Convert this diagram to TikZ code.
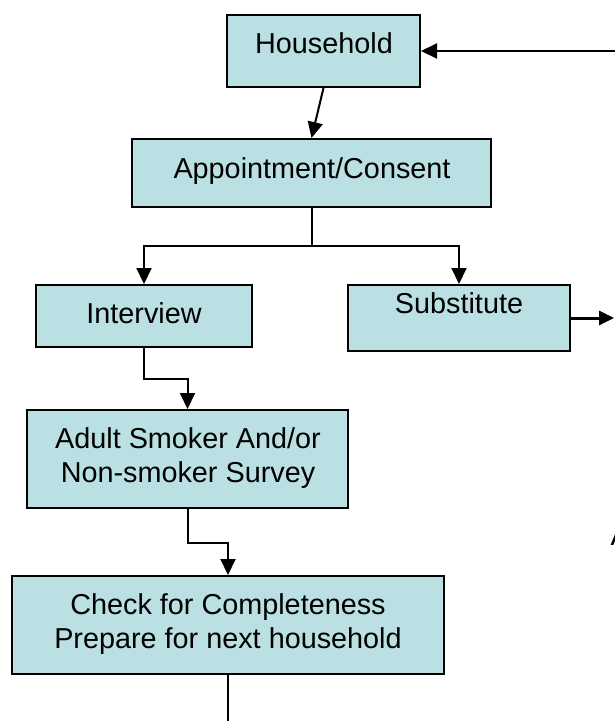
\documentclass[tikz,border=0pt]{standalone}
\usepackage{fontspec}
\setmainfont{Liberation Sans}
\usetikzlibrary{arrows.meta}
\definecolor{boxfill}{RGB}{187,224,227}
\tikzset{
  box/.style={draw=black, line width=2pt, fill=boxfill, rectangle, inner sep=0pt},
  txt/.style={inner sep=0pt, align=center, font=\fontsize{28.8}{34}\selectfont},
  conn/.style={line width=2pt, draw=black},
  arr/.style={conn, -{Triangle[length=16pt,width=15pt]}},
  thickarr/.style={line width=3pt, draw=black, -{Triangle[length=15pt,width=14pt]}}
}
\begin{document}
\begin{tikzpicture}[x=1pt,y=-1pt]
\useasboundingbox (0,0) rectangle (614,721);
% boxes
\node[box, minimum width=193pt, minimum height=72pt] (hh) at (323.5,51) {};
\node[box, minimum width=359pt, minimum height=68pt] (ap) at (311.5,173) {};
\node[box, minimum width=216pt, minimum height=62pt] (iv) at (144,316) {};
\node[box, minimum width=222pt, minimum height=66pt] (sb) at (459,318) {};
\node[box, minimum width=321pt, minimum height=98pt] (ad) at (187.5,459) {};
\node[box, minimum width=432pt, minimum height=98pt] (ck) at (228,625) {};
% texts
\node[txt, anchor=base] (thh) at (324,53) {Household};
\node[txt, anchor=base] (tap) at (312,178) {Appointment/Consent};
\node[txt, anchor=base] (tiv) at (144,323) {Interview};
\node[txt, anchor=base] (tsb) at (459,313) {Substitute};
\node[txt, anchor=base] (tad1) at (188,448) {Adult Smoker And/or};
\node[txt, anchor=base] (tad2) at (188,482) {Non-smoker Survey};
\node[txt, anchor=base] (tck1) at (228,614) {Check for Completeness};
\node[txt, anchor=base] (tck2) at (228,648) {Prepare for next household};
\node[txt, anchor=base west] (tA) at (610.5,545) {A};
% free ends
\coordinate (rin) at (616,51);
\coordinate (sbout) at (614,318);
\coordinate (ckout) at (228,724);
% connectors
\draw[arr] (rin) -- (hh.east);
\draw[arr] (hh.south) -- (ap.north);
\draw[arr] (ap.south) -- ++(0,38) -| (iv.north);
\draw[arr] (ap.south) -- ++(0,38) -| (sb.north);
\draw[thickarr] (sb.east) -- (sbout);
\draw[arr] (iv.south) -- ++(0,31) -| (ad.north);
\draw[arr] (ad.south) -- ++(0,34) -| (ck.north);
\draw[conn] (ck.south) -- (ckout);
\end{tikzpicture}
\end{document}
